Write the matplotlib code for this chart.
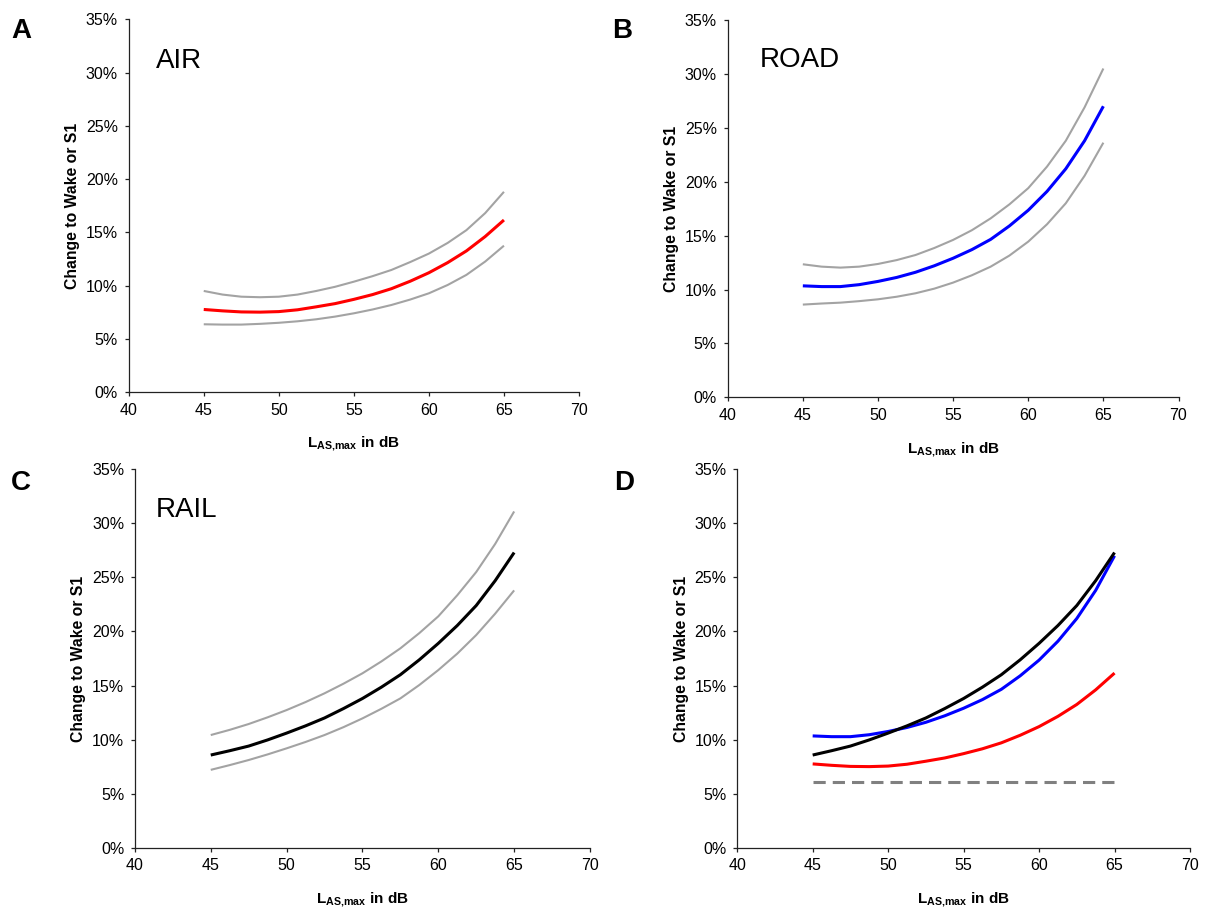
import matplotlib
matplotlib.use("Agg")
import matplotlib.pyplot as plt
from matplotlib.ticker import FixedLocator, FixedFormatter

plt.rcParams['font.family'] = ['Liberation Sans', 'DejaVu Sans']
plt.rcParams['mathtext.fontset'] = 'custom'
plt.rcParams['mathtext.rm'] = 'Liberation Sans'
plt.rcParams['mathtext.bf'] = 'Liberation Sans:bold'

# ---- data ----
level_db = [45, 46.25, 47.5, 48.75, 50, 51.25, 52.5, 53.75, 55,
            56.25, 57.5, 58.75, 60, 61.25, 62.5, 63.75, 65]

air_mean = [7.75, 7.62, 7.52, 7.5, 7.55, 7.72, 8.0, 8.3, 8.7,
            9.15, 9.7, 10.4, 11.2, 12.15, 13.25, 14.6, 16.15]
air_upper = [9.49, 9.15, 8.95, 8.9, 8.95, 9.15, 9.49, 9.88, 10.36,
             10.88, 11.46, 12.2, 13.0, 14.0, 15.2, 16.8, 18.8]
air_lower = [6.36, 6.33, 6.33, 6.4, 6.5, 6.64, 6.83, 7.08, 7.39,
             7.75, 8.17, 8.68, 9.27, 10.05, 11.0, 12.25, 13.74]

road_mean = [10.34, 10.27, 10.27, 10.45, 10.75, 11.12, 11.6, 12.2, 12.9,
             13.7, 14.65, 15.9, 17.35, 19.1, 21.2, 23.8, 27.0]
road_upper = [12.34, 12.12, 12.03, 12.12, 12.37, 12.73, 13.2, 13.85, 14.6,
              15.5, 16.6, 17.9, 19.4, 21.4, 23.8, 26.9, 30.5]
road_lower = [8.6, 8.7, 8.78, 8.92, 9.09, 9.33, 9.65, 10.08, 10.64,
              11.32, 12.12, 13.15, 14.44, 16.05, 18.0, 20.55, 23.62]

rail_mean = [8.57, 8.97, 9.4, 9.97, 10.6, 11.27, 12.0, 12.87, 13.8,
             14.85, 16.0, 17.38, 18.9, 20.55, 22.4, 24.7, 27.3]
rail_upper = [10.42, 10.9, 11.44, 12.06, 12.73, 13.47, 14.28, 15.17, 16.13,
              17.23, 18.44, 19.85, 21.4, 23.35, 25.5, 28.1, 31.1]
rail_lower = [7.2, 7.64, 8.11, 8.63, 9.19, 9.78, 10.42, 11.15, 11.96,
              12.85, 13.81, 15.05, 16.43, 17.95, 19.67, 21.65, 23.8]

baseline_db = [45, 65]
baseline_val = [6.1, 6.1]

x_ticks = [40, 45, 50, 55, 60, 65, 70]
x_tick_labels = ['40', '45', '50', '55', '60', '65', '70']
y_ticks = [0, 5, 10, 15, 20, 25, 30, 35]
y_tick_labels = ['0%', '5%', '10%', '15%', '20%', '25%', '30%', '35%']

panel_letters = ['A', 'B', 'C', 'D']
panel_titles = ['AIR', 'ROAD', 'RAIL', '']
y_label = 'Change to Wake or S1'
x_label = r'$\mathbf{L}_{\mathbf{AS{,}max}}$ in dB'

# ---- layout (pixels) ----
W, H = 1205, 910
fig = plt.figure(figsize=(W / 100, H / 100), dpi=100)

# left, right, top, bottom in pixels
boxes = [
    (128.7, 579.0, 19.3, 392.0),
    (727.7, 1178.5, 20.0, 397.3),
    (134.9, 590.0, 469.3, 847.7),
    (737.2, 1190.0, 469.3, 847.7),
]
letter_pos = [(11, 38), (612, 38), (11, 490), (614, 490)]
title_pos = [(156, 68), (760, 67), (156, 517), (0, 0)]

GRAY = '#a3a3a3'
axes = []
for i, (l, r, t, b) in enumerate(boxes):
    ax = fig.add_axes([l / W, 1 - b / H, (r - l) / W, (b - t) / H])
    axes.append(ax)
    ax.set_xlim(40, 70)
    ax.set_ylim(0, 35)
    for s in ['top', 'right']:
        ax.spines[s].set_visible(False)
    for s in ['left', 'bottom']:
        ax.spines[s].set_linewidth(0.9)
        ax.spines[s].set_color('#222222')
    ax.xaxis.set_major_locator(FixedLocator(x_ticks))
    ax.xaxis.set_major_formatter(FixedFormatter(x_tick_labels))
    ax.yaxis.set_major_locator(FixedLocator(y_ticks))
    ax.yaxis.set_major_formatter(FixedFormatter(y_tick_labels))
    ax.tick_params(direction='out', length=3.2, width=0.9, color='#222222',
                   labelsize=11.5, pad=4.5)
    ax.patch.set_visible(False)
    ax.text(-56 / (r - l), 0.5, y_label, transform=ax.transAxes, rotation=90,
            ha='center', va='center', fontsize=11.3, fontweight='bold')
    ax.text(0.5, -52 / (b - t), x_label, transform=ax.transAxes,
            ha='center', va='center', fontsize=11, fontweight='bold')
    lx, ly = letter_pos[i]
    fig.text(lx / W, 1 - ly / H, panel_letters[i], fontsize=20,
             fontweight='bold', ha='left', va='baseline')
    if panel_titles[i]:
        tx, ty = title_pos[i]
        fig.text(tx / W, 1 - ty / H, panel_titles[i], fontsize=20,
                 ha='left', va='baseline')

main_kw = dict(lw=2.2, solid_capstyle='butt', solid_joinstyle='round')
ci_kw = dict(lw=1.5, color=GRAY, solid_capstyle='butt', solid_joinstyle='round')

axA, axB, axC, axD = axes
axA.plot(level_db, air_upper, **ci_kw)
axA.plot(level_db, air_lower, **ci_kw)
axA.plot(level_db, air_mean, color='#ff0000', **main_kw)

axB.plot(level_db, road_upper, **ci_kw)
axB.plot(level_db, road_lower, **ci_kw)
axB.plot(level_db, road_mean, color='#0000ff', **main_kw)

axC.plot(level_db, rail_upper, **ci_kw)
axC.plot(level_db, rail_lower, **ci_kw)
axC.plot(level_db, rail_mean, color='#000000', **main_kw)

axD.plot(baseline_db, baseline_val, color='#808080', lw=2.2,
         dashes=(4, 2.3), dash_capstyle='butt')
axD.plot(level_db, air_mean, color='#ff0000', **main_kw)
axD.plot(level_db, road_mean, color='#0000ff', **main_kw)
axD.plot(level_db, rail_mean, color='#000000', **main_kw)

fig.savefig('out.png', dpi=100, facecolor='white')
